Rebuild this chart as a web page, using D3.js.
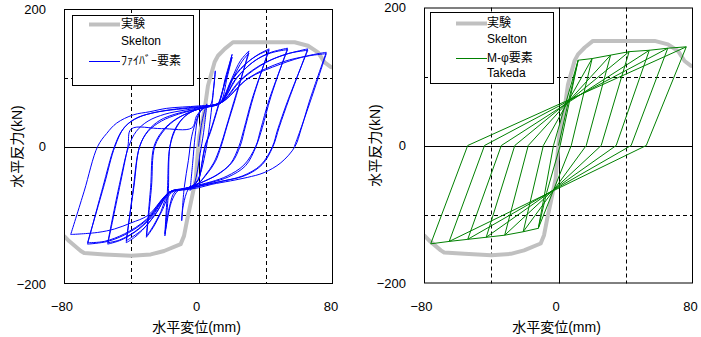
<!DOCTYPE html>
<html><head><meta charset="utf-8">
<script src="https://cdn.jsdelivr.net/npm/d3@7"></script>
<style>
body{margin:0;background:#fff}
text{font-family:"Liberation Sans","Noto Sans CJK JP",sans-serif;fill:#000}
</style>
</head><body>
<svg id="chart" width="701" height="337"></svg>
<script>
// ---- data ----
const xTicks = [-80, 0, 80];
const yTicks = [-200, 0, 200];
const xGrid = [-40, 40];
const yGrid = [-100, 100];
const xTitle = "水平変位(mm)";
const yTitle = "水平反力(kN)";
const legendLeft = ["実験", "Skelton", "ﾌｧｲﾊﾞｰ要素"];
const legendRight = ["実験", "Skelton", "M-φ要素", "Takeda"];

// experiment skeleton (gray)
const expSkeleton = [[-80,-130],[-77,-137.5],[-70,-152],[-68,-155],[-56,-157],[-40,-159],[-28.4,-157],[-20.5,-152],[-10.6,-142],[-8.6,-130],[-6.7,-106],[-4.6,-82],[-1.7,-48],[-0.5,-12],[0.5,15],[3.7,54.5],[5.6,88],[9.6,123],[11.6,132],[15.6,142],[20.5,151.6],[57.2,151.6],[65.1,146.6],[71.1,137],[75,122.5],[78.8,115.5],[80,115]];

// fiber element model (blue), branch by branch (peak to peak)
const fiberBranches = [
 [[0,0],[2,35],[4,55],[5,62]],
 [[5,62],[3,20],[1,-10],[-1,-40],[-3,-58],[-5,-64]],
 [[-5,-64],[-3.5,-25],[-2,15],[0,45],[3,56],[7,60],[9,85],[10,110]],
 [[10,110],[8,60],[6,20],[4,-10],[1,-40],[-2,-55],[-6,-62],[-9,-85],[-10,-108]],
 [[-10,-108],[-8.5,-60],[-6,-20],[-4,15],[-1,40],[2,55],[8,60],[12,64],[16,100],[20,134]],
 [[20,134],[12,60],[7,20],[4,0],[2,-25],[0,-48],[-4,-58],[-12,-64],[-16,-80],[-20,-130]],
 [[-20,-130],[-18,-70],[-17,0],[-14,25],[-9,42],[-3,52],[2,56],[8,60],[13,64],[17,100],[20,130]],
 [[20,130],[12,62],[7,22],[3.7,0],[2,-25],[0,-48],[-5,-59],[-14,-66],[-17,-85],[-20,-127]],
 [[-20,-127],[-18.5,-65],[-17,0],[-13,28],[-8,44],[-2,53],[4,57],[10,61],[14,66],[20,100],[25,125],[30,139]],
 [[30,139],[22,70],[17,30],[13.4,0],[10,-22],[5,-40],[0,-53],[-6,-60],[-16,-67],[-22,-95],[-27,-118],[-31,-132]],
 [[-31,-132],[-28,-60],[-26,0],[-20,25],[-13,40],[-5,50],[2,56],[9,60],[14,66],[21,102],[26,124],[30,136]],
 [[30,136],[21,65],[16.5,28],[13,0],[9,-24],[4,-42],[0,-54],[-7,-61],[-17,-67],[-23,-98],[-28,-120],[-31,-130]],
 [[-31,-130],[-28.5,-60],[-26.5,0],[-21,24],[-14,39],[-6,49],[1,55],[8,59],[13,64],[20,98],[27,118],[35,133],[42,142]],
 [[42,142],[33,75],[28,30],[24.7,0],[20,-23],[12,-40],[4,-50],[-2,-56],[-9,-62],[-17,-67],[-25,-96],[-32,-118],[-38,-132],[-43,-140]],
 [[-43,-140],[-39,-65],[-35,0],[-30,22],[-22,37],[-12,47],[-3,53],[5,58],[13,63],[21,100],[29,122],[36,134],[42,140]],
 [[42,140],[32,70],[27,25],[24,0],[19,-25],[11,-41],[3,-51],[-3,-57],[-10,-63],[-17,-66],[-26,-100],[-33,-120],[-39,-131],[-43,-137]],
 [[-43,-137],[-38.5,-60],[-35,0],[-30,23],[-23,38],[-14,47],[-4,53],[5,57],[13,63],[22,98],[32,122],[42,136],[53,143]],
 [[53,143],[43,72],[38,28],[34.2,0],[28,-28],[18,-44],[8,-52],[0,-57],[-8,-62],[-17,-66],[-28,-103],[-37,-123],[-46,-136],[-54,-142]],
 [[-54,-142],[-47,-60],[-42,0],[-40,25.5],[-22,26],[-4,27],[-1,45],[4,57],[13,63],[23,100],[33,124],[43,136],[53,141]],
 [[53,141],[42,68],[37,25],[34,0],[27,-27],[17,-43],[8,-51],[0,-56],[-8,-61],[-17,-66],[-29,-104],[-38,-124],[-47,-136],[-54,-140]],
 [[-54,-140],[-47,-55],[-41.5,0],[-37,22],[-30,37],[-20,47],[-8,53],[2,57],[13,63],[25,97],[38,120],[52,134],[65,142]],
 [[65,142],[54,70],[48,28],[44.3,0],[38,-26],[28,-42],[15,-50],[3,-56],[-6,-61],[-17,-66],[-30,-105],[-42,-126],[-54,-138],[-66,-142]],
 [[-66,-142],[-57,-60],[-50,0],[-45,25],[-38,40],[-27,49],[-13,54],[0,57],[13,63],[26,98],[40,122],[53,135],[65,140]],
 [[65,140],[53,66],[47,24],[44,0],[37,-27],[26,-43],[13,-51],[2,-57],[-7,-62],[-17,-66],[-31,-106],[-44,-127],[-56,-138],[-66,-140]],
 [[-66,-140],[-56,-55],[-49.7,0],[-44,28],[-36,42],[-25,50],[-12,55],[0,58],[13,63],[29,98],[49,120],[65,132],[76,137]],
 [[76,137],[66,66],[61,25],[57.4,0],[49,-23.6],[39,-38],[29,-45],[19,-50],[8,-55],[0,-60],[-8,-63],[-17,-66],[-30,-100],[-40,-111],[-50,-120],[-60,-125],[-76,-128]],
 [[-76,-128],[-68,-65],[-60,0],[-54.6,19],[-48.7,34],[-38.8,46],[-28.9,50.6],[-18.9,55.5],[0,59],[13,63],[30,100],[50,123],[66,132],[76,135]],
 [[76,135],[66,62],[60,20],[57,0]]
];

// M-phi element, Takeda model (green)
const takedaPath = [[0,0],[5.8,63],[11.7,123.6],[1,0],[-7,-68],[-12,-120],[-3,0],[11.7,123.6],[20,126],[7.6,0],[-12,-120],[-21,-125],[-9,0],[20,126],[31,131],[16.5,0],[-21,-125],[-32,-130],[-18,0],[31,131],[42,136],[25.4,0],[-32,-130],[-43,-133],[-26,0],[42,136],[54,138],[34.3,0],[-43,-133],[-54,-136],[-34,0],[54,138],[65,141],[43.2,0],[-54,-136],[-65,-139],[-44,0],[65,141],[76,143],[52.2,0],[-65,-139],[-76,-142.5],[-54,0],[76,143]];

// ---- drawing ----
const svg = d3.select("#chart");

const panels = [
  {id:"L", x0:64, x1:333, y0:9, y1:284, branches: fiberBranches, color:"#0000ff", curve: d3.curveCatmullRom.alpha(0.5),
   legend: legendLeft, lg:{x:72,y:15,w:121,h:70, lx0:89, lx1:120, tx:121, rows:[24,41,61]}, ytx:17, yLabRight:46, xShift:-2.5,
   lstyles:[{c:"#c0c0c0", w:4}, null, {c:"#0000ff", w:1}]},
  {id:"R", x0:424, x1:693, y0:7.5, y1:283.5, branches: [takedaPath], color:"#008000", curve: d3.curveLinear,
   legend: legendRight, lg:{x:430,y:12,w:123,h:71, lx0:456, lx1:487, tx:487, rows:[23,39,58,73]}, ytx:375, yLabRight:406, xShift:-3,
   lstyles:[{c:"#c0c0c0", w:4}, null, {c:"#008000", w:1}, null]}
];

panels.forEach(p => {
  const x = d3.scaleLinear().domain([-80, 80]).range([p.x0, p.x1]);
  const y = d3.scaleLinear().domain([-200, 200]).range([p.y1, p.y0]);
  const g = svg.append("g");

  g.append("clipPath").attr("id", "clip" + p.id)
    .append("rect").attr("x", p.x0).attr("y", p.y0).attr("width", p.x1 - p.x0).attr("height", p.y1 - p.y0);

  // grid
  g.selectAll(".vg").data(xGrid).join("line")
    .attr("x1", d => Math.round(x(d)) + 0.5).attr("x2", d => Math.round(x(d)) + 0.5)
    .attr("y1", p.y0).attr("y2", p.y1).attr("stroke", "#000").attr("stroke-dasharray", "4,3");
  g.selectAll(".hg").data(yGrid).join("line")
    .attr("y1", d => Math.round(y(d)) + 0.5).attr("y2", d => Math.round(y(d)) + 0.5)
    .attr("x1", p.x0).attr("x2", p.x1).attr("stroke", "#000").attr("stroke-dasharray", "4,3");
  // zero lines
  g.append("line").attr("x1", Math.round(x(0)) + 0.5).attr("x2", Math.round(x(0)) + 0.5)
    .attr("y1", p.y0).attr("y2", p.y1).attr("stroke", "#000");
  g.append("line").attr("y1", Math.round(y(0)) + 0.5).attr("y2", Math.round(y(0)) + 0.5)
    .attr("x1", p.x0).attr("x2", p.x1).attr("stroke", "#000");

  const line = d3.line().x(d => x(d[0])).y(d => y(d[1]));
  const plot = g.append("g").attr("clip-path", `url(#clip${p.id})`);
  plot.append("path").datum(expSkeleton).attr("d", line.curve(d3.curveLinear))
    .attr("fill", "none").attr("stroke", "#c0c0c0").attr("stroke-width", 4).attr("stroke-linejoin", "round");
  const lineS = d3.line().x(d => x(d[0])).y(d => y(d[1])).curve(p.curve);
  plot.selectAll(".br").data(p.branches).join("path").attr("d", lineS)
    .attr("fill", "none").attr("stroke", p.color).attr("stroke-width", 1).attr("stroke-linejoin", "miter");

  // frame
  g.append("rect").attr("x", p.x0 + 0.5).attr("y", p.y0 + 0.5)
    .attr("width", p.x1 - p.x0 - 1).attr("height", p.y1 - p.y0 - 1)
    .attr("fill", "none").attr("stroke", "#000");

  // axes (labels only)
  const ax = g.append("g").attr("transform", `translate(${p.xShift},${p.y1})`)
    .call(d3.axisBottom(x).tickValues(xTicks).tickSize(0).tickPadding(18).tickFormat(d3.format("d")));
  ax.select(".domain").remove();
  ax.selectAll("text").attr("font-size", 13).attr("font-family", "Liberation Sans");
  const ay = g.append("g").attr("transform", `translate(${p.yLabRight},0)`)
    .call(d3.axisLeft(y).tickValues(yTicks).tickSize(0).tickPadding(0).tickFormat(d3.format("d")));
  ay.select(".domain").remove();
  ay.selectAll("text").attr("font-size", 13).attr("font-family", "Liberation Sans");

  // titles
  g.append("text").attr("x", (p.x0 + p.x1) / 2 - 2).attr("y", 332)
    .attr("text-anchor", "middle").attr("font-size", 14).text(xTitle);
  g.append("text").attr("transform", `translate(${p.ytx + 5},${(p.y0 + p.y1) / 2}) rotate(-90)`)
    .attr("text-anchor", "middle").attr("font-size", 14).text(yTitle);

  // legend
  const L = p.lg;
  g.append("rect").attr("x", L.x + 0.5).attr("y", L.y + 0.5).attr("width", L.w).attr("height", L.h)
    .attr("fill", "#fff").attr("stroke", "#000");
  p.legend.forEach((t, i) => {
    const yy = L.rows[i];
    const st = p.lstyles[i];
    if (st) g.append("line").attr("x1", L.lx0).attr("x2", L.lx1).attr("y1", yy + 0.5).attr("y2", yy + 0.5)
      .attr("stroke", st.c).attr("stroke-width", st.w);
    g.append("text").attr("x", L.tx).attr("y", yy).attr("dy", "0.36em").attr("font-size", 12).text(t);
  });
});
</script>
</body></html>
